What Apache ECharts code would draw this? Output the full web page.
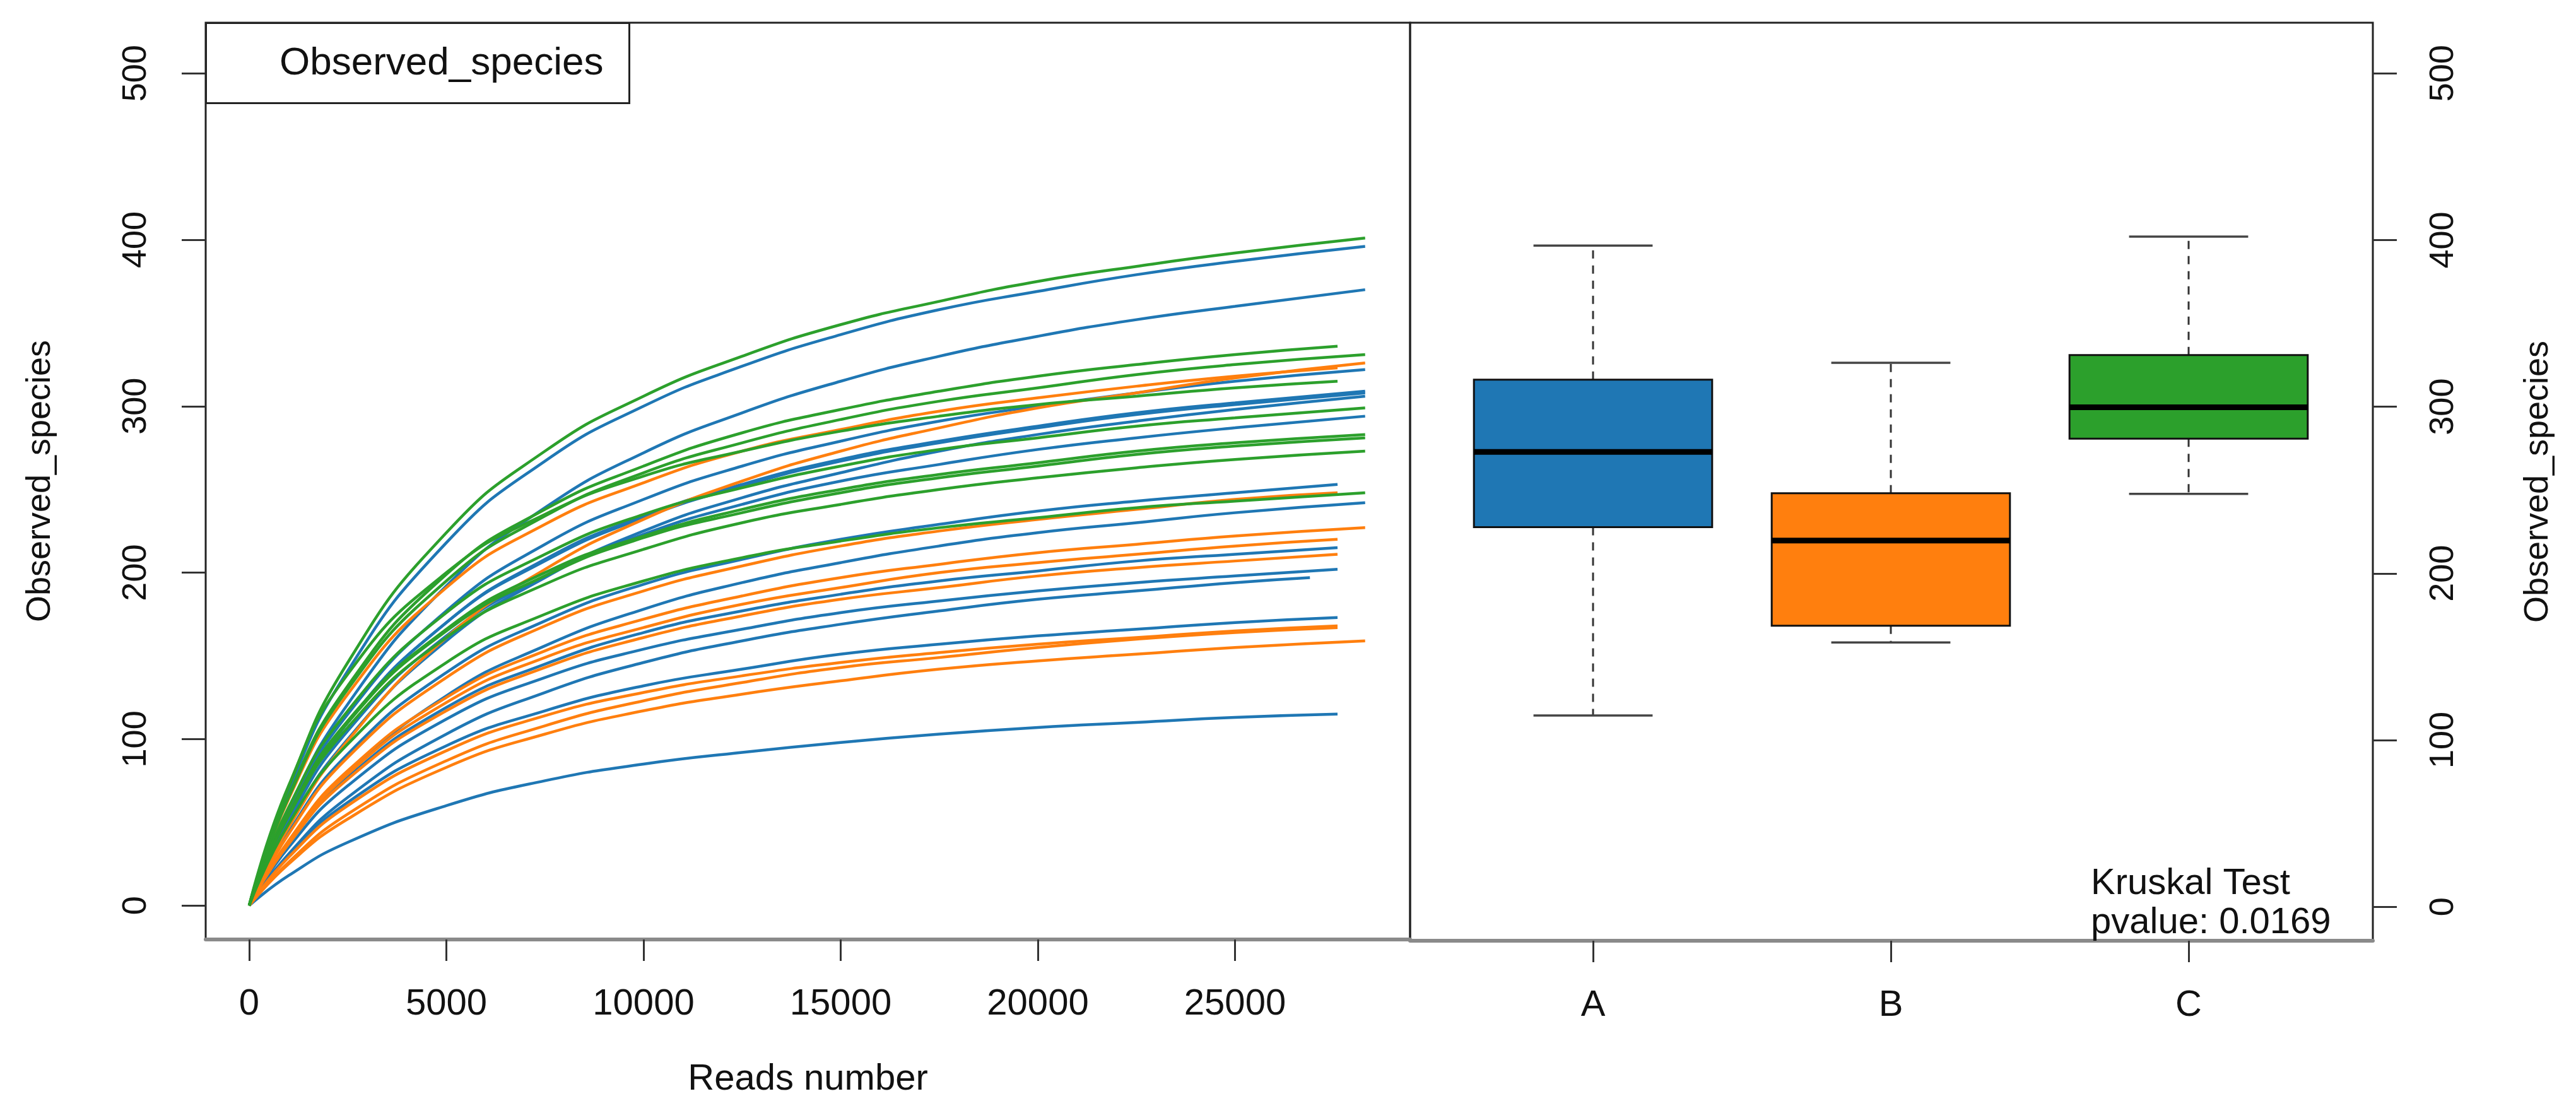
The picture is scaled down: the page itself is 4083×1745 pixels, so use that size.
<!DOCTYPE html>
<html lang="en">
  <head>
    <meta charset="utf-8">
    <title>Observed_species rarefaction</title>
    <script src="https://cdn.jsdelivr.net/npm/echarts@6/dist/echarts.min.js"></script>
    <style>
      html, body { margin: 0; padding: 0; background: #fff; }
      #chart { width: 4083px; height: 1745px; }
    </style>
  </head>
  <body>
    <div id="chart"></div>
    <script>
      // reads at which each curve was sampled (the last point of a curve is its depth)
      var readSteps = [0, 1000, 2500, 5000, 7500, 10000, 12500, 15000, 17500, 20000, 22500, 25000];

      // group A (blue)
      var depthA = [28300, 28300, 28300, 28300, 28300, 28300, 28300, 27600, 28300, 27600, 27600, 26900, 27600, 27600];
      var curvesA = [
        [0, 69, 141, 218, 267, 300, 324, 343, 358, 369, 379, 387, 396],
        [0, 58, 121, 192, 239, 272, 296, 315, 330, 342, 352, 360, 370],
        [0, 56, 115, 177, 217, 244, 264, 279, 291, 300, 308, 315, 322],
        [0, 53, 110, 170, 208, 234, 253, 268, 279, 288, 296, 302, 309],
        [0, 53, 110, 170, 207, 233, 252, 267, 278, 287, 295, 301, 308],
        [0, 48, 100, 159, 197, 225, 245, 260, 273, 283, 291, 298, 306],
        [0, 51, 105, 162, 198, 223, 241, 255, 265, 274, 281, 287, 294],
        [0, 44, 91, 140, 171, 193, 208, 220, 229, 237, 243, 248, 253],
        [0, 38, 79, 126, 156, 178, 194, 206, 216, 224, 230, 236, 242],
        [0, 37, 77, 119, 145, 164, 177, 187, 195, 201, 207, 211, 215],
        [0, 35, 72, 112, 137, 154, 166, 176, 183, 189, 194, 198, 202],
        [0, 31, 65, 103, 128, 146, 159, 169, 177, 184, 189, 194, 197],
        [0, 30, 62, 96, 117, 132, 142, 151, 157, 162, 166, 170, 173],
        [0, 18, 38, 60, 75, 85, 92, 98, 103, 107, 110, 113, 115]
      ];

      // group B (orange)
      var depthB = [28300, 27600, 27600, 28300, 27600, 27600, 27600, 27600, 28300];
      var curvesB = [
        [0, 47, 99, 161, 202, 232, 255, 273, 287, 299, 308, 317, 326],
        [0, 64, 127, 191, 229, 254, 273, 286, 297, 305, 312, 318, 323],
        [0, 43, 89, 137, 168, 189, 204, 216, 225, 232, 238, 244, 248],
        [0, 39, 81, 125, 153, 172, 186, 197, 205, 212, 217, 222, 227],
        [0, 38, 79, 122, 149, 167, 181, 191, 200, 206, 211, 216, 220],
        [0, 37, 76, 117, 143, 161, 174, 184, 191, 198, 203, 207, 211],
        [0, 29, 60, 93, 114, 128, 138, 146, 152, 157, 161, 165, 168],
        [0, 26, 55, 87, 108, 123, 134, 143, 149, 155, 160, 164, 167],
        [0, 25, 52, 83, 103, 117, 127, 135, 142, 147, 151, 155, 159]
      ];

      // group C (green)
      var depthC = [28300, 27600, 28300, 27600, 28300, 28300, 28300, 28300, 28300];
      var curvesC = [
        [0, 71, 146, 224, 273, 306, 330, 349, 363, 375, 384, 392, 401],
        [0, 66, 132, 199, 238, 264, 284, 298, 309, 318, 325, 331, 336],
        [0, 65, 130, 195, 234, 260, 278, 292, 303, 311, 319, 325, 331],
        [0, 72, 139, 200, 235, 258, 273, 285, 294, 301, 306, 311, 315],
        [0, 59, 117, 176, 211, 235, 251, 264, 274, 281, 288, 293, 299],
        [0, 55, 111, 166, 200, 222, 238, 250, 259, 266, 273, 278, 283],
        [0, 55, 110, 165, 198, 221, 236, 248, 257, 264, 271, 276, 281],
        [0, 54, 107, 161, 193, 214, 230, 241, 250, 257, 263, 268, 273],
        [0, 49, 97, 146, 175, 195, 209, 219, 227, 233, 239, 243, 248]
      ];

      // boxplot: min, lower hinge, median, upper hinge, max
      var groupNames = ['A', 'B', 'C'];
      var boxA = [114.7, 227.7, 272.9, 316.2, 396.7];
      var boxB = [158.6, 168.6, 219.7, 248.1, 326.4];
      var boxC = [247.7, 280.8, 299.7, 331.0, 402.1];

      var xTickValues = [0, 5000, 10000, 15000, 20000, 25000];
      var yTickValues = [0, 100, 200, 300, 400, 500];
      var kruskalLines = ['Kruskal Test', 'pvalue: 0.0169'];

      var groupColors = ['#1F77B4', '#FF7F0E', '#2CA02C'];
      var FONT = '"Liberation Sans", Arial, Helvetica, sans-serif';
      var Y_MIN = -20.4, Y_MAX = 530.4;

      function curve_series(curves, depths, color){
        var out = [];
        for (var i = 0; i < curves.length; i++){
          var pts = [];
          for (var j = 0; j < readSteps.length; j++){
            pts.push([readSteps[j], curves[i][j]]);
          }
          pts.push([depths[i], curves[i][readSteps.length]]);
          out.push({
            type: 'line', xAxisIndex: 0, yAxisIndex: 0,
            data: pts, smooth: 0.5,
            symbol: 'none', silent: true,
            lineStyle: {color: color, width: 4.5}
          });
        }
        return out;
      }

      function render_box(params, api){
        var i = api.value(0);
        var lo = api.coord([i, api.value(1)]);
        var q1 = api.coord([i, api.value(2)]);
        var md = api.coord([i, api.value(3)]);
        var q3 = api.coord([i, api.value(4)]);
        var hi = api.coord([i, api.value(5)]);
        var band = api.size([1, 0])[0];
        var hw = band * 0.4, cw = band * 0.2;
        var x = md[0];
        var dash = {stroke: '#333', lineWidth: 3, lineDash: [13, 11]};
        var cap = {stroke: '#444', lineWidth: 3.5};
        return {
          type: 'group',
          children: [
            {type: 'line', shape: {x1: x, y1: q3[1], x2: x, y2: hi[1]}, style: dash},
            {type: 'line', shape: {x1: x, y1: q1[1], x2: x, y2: lo[1]}, style: dash},
            {type: 'line', shape: {x1: x - cw, y1: hi[1], x2: x + cw, y2: hi[1]}, style: cap},
            {type: 'line', shape: {x1: x - cw, y1: lo[1], x2: x + cw, y2: lo[1]}, style: cap},
            {type: 'rect', shape: {x: x - hw, y: q3[1], width: 2 * hw, height: q1[1] - q3[1]},
             style: {fill: groupColors[i], stroke: '#111', lineWidth: 3}},
            {type: 'line', shape: {x1: x - hw, y1: md[1], x2: x + hw, y2: md[1]},
             style: {stroke: '#000', lineWidth: 9}}
          ]
        };
      }

      function plain_number(v){ return String(v); }

      var tickStyle = {color: '#333', width: 3};
      var bottomLine = {show: true, onZero: false, lineStyle: {color: '#8a8a8a', width: 6}};

      var series = []
        .concat(curve_series(curvesA, depthA, groupColors[0]))
        .concat(curve_series(curvesB, depthB, groupColors[1]))
        .concat(curve_series(curvesC, depthC, groupColors[2]));

      series.push({
        type: 'custom', xAxisIndex: 2, yAxisIndex: 2,
        renderItem: render_box,
        encode: {x: 0, y: [1, 2, 3, 4, 5]},
        data: [[0].concat(boxA), [1].concat(boxB), [2].concat(boxC)],
        silent: true
      });

      var chart = echarts.init(document.getElementById('chart'), null, {renderer: 'canvas'});
      chart.setOption({
        animation: false,
        backgroundColor: '#fff',
        textStyle: {fontFamily: FONT},
        title: [
          {
            text: 'Observed_species', left: 326, top: 36,
            padding: [34, 41, 32, 117],
            borderColor: '#222', borderWidth: 3,
            textStyle: {fontFamily: FONT, fontSize: 62, fontWeight: 'normal', color: '#111', lineHeight: 62}
          },
          {
            text: kruskalLines.join('\n'), left: 3314, top: 1370, padding: 0,
            textStyle: {fontFamily: FONT, fontSize: 58, fontWeight: 'normal', color: '#111', lineHeight: 62}
          }
        ],
        grid: [
          {left: 326, top: 36, width: 1909, height: 1455, show: true, borderColor: '#222', borderWidth: 3},
          {left: 2235, top: 36, width: 1526, height: 1455, show: true, borderColor: '#222', borderWidth: 3},
          {left: 2289, top: 36, width: 1416, height: 1455}
        ],
        xAxis: [
          {
            gridIndex: 0, type: 'value', min: -1104, max: 29440,
            axisLine: bottomLine, splitLine: {show: false},
            axisTick: {show: true, length: 34, lineStyle: tickStyle, customValues: xTickValues},
            axisLabel: {customValues: xTickValues, formatter: plain_number, margin: 74, fontSize: 58, color: '#111', fontFamily: FONT},
            name: 'Reads number', nameLocation: 'middle', nameGap: 193,
            nameTextStyle: {fontSize: 58, color: '#111', fontFamily: FONT}
          },
          {
            gridIndex: 1, type: 'value', min: 0, max: 1,
            axisLine: bottomLine, axisTick: {show: false}, axisLabel: {show: false},
            splitLine: {show: false}
          },
          {
            gridIndex: 2, type: 'category', data: groupNames,
            axisLine: {show: false, onZero: false},
            axisTick: {show: true, alignWithLabel: true, length: 34, lineStyle: tickStyle},
            axisLabel: {margin: 74, fontSize: 58, color: '#111', fontFamily: FONT},
            splitLine: {show: false}
          }
        ],
        yAxis: [
          {
            gridIndex: 0, type: 'value', min: Y_MIN, max: Y_MAX, position: 'left',
            axisLine: {show: false, onZero: false}, splitLine: {show: false},
            axisTick: {show: true, length: 38, lineStyle: tickStyle, customValues: yTickValues},
            axisLabel: {customValues: yTickValues, formatter: plain_number, rotate: 90, margin: 83, fontSize: 54, color: '#111', fontFamily: FONT},
            name: 'Observed_species', nameLocation: 'middle', nameGap: 235,
            nameTextStyle: {fontSize: 54, color: '#111', fontFamily: FONT}
          },
          {
            gridIndex: 1, type: 'value', min: Y_MIN, max: Y_MAX, position: 'right',
            axisLine: {show: false, onZero: false}, splitLine: {show: false},
            axisTick: {show: true, length: 38, lineStyle: tickStyle, customValues: yTickValues},
            axisLabel: {customValues: yTickValues, formatter: plain_number, rotate: 90, margin: 85, fontSize: 54, color: '#111', fontFamily: FONT},
            name: 'Observed_species', nameLocation: 'middle', nameGap: 235,
            nameTextStyle: {fontSize: 54, color: '#111', fontFamily: FONT}
          },
          {
            gridIndex: 2, type: 'value', min: Y_MIN, max: Y_MAX, show: false,
            axisLine: {onZero: false}
          }
        ],
        series: series
      });
    </script>
  </body>
</html>
